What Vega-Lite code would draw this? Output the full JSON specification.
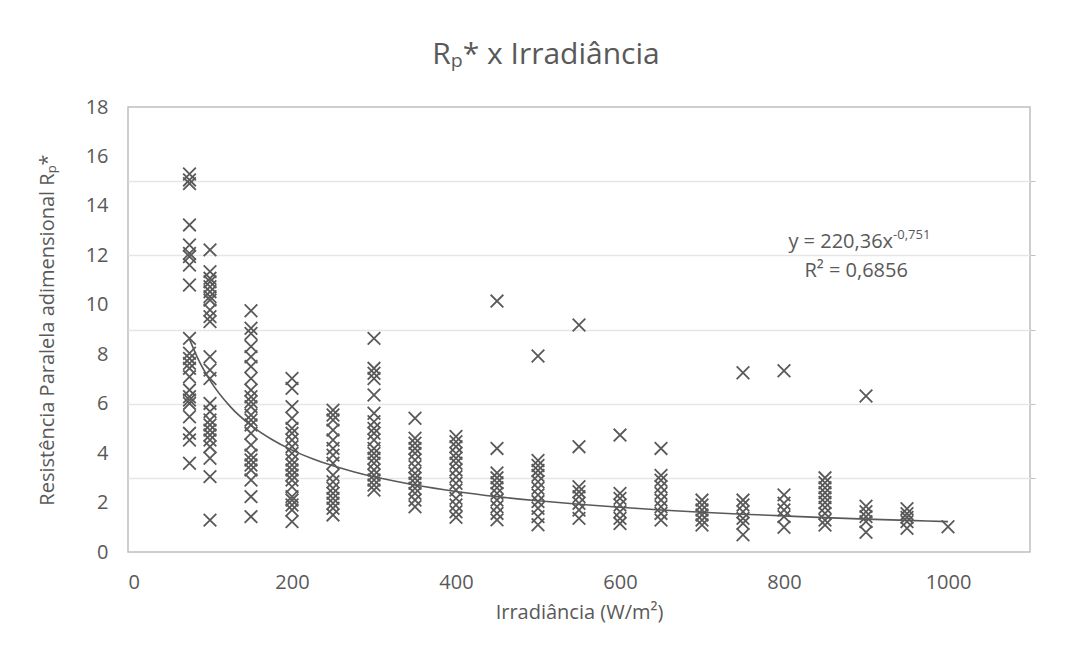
{
  "$schema": "https://vega.github.io/schema/vega-lite/v6.json",
  "width": 902,
  "height": 445,
  "autosize": {"type": "none"},
  "padding": {"left": 128, "top": 107, "right": 46, "bottom": 112},
  "background": "white",
  "config": {
    "view": {"stroke": "#BFBFBF", "strokeWidth": 1.5},
    "font": "Open Sans",
    "axis": {"labelFont": "Open Sans", "titleFont": "Open Sans"}
  },
  "title": {
    "text": "Rₚ* x Irradiância",
    "fontSize": 30,
    "font": "Open Sans",
    "fontWeight": "normal",
    "color": "#595959",
    "anchor": "middle",
    "frame": "group",
    "offset": 27,
    "dx": -33
  },
  "datasets": {
    "pts": [
      {"x":75,"y":15.29},{"x":75,"y":15.05},{"x":75,"y":14.9},{"x":75,"y":13.23},{"x":75,"y":12.42},{"x":75,"y":12.08},{"x":75,"y":11.95},{"x":75,"y":11.61},{"x":75,"y":10.8},{"x":75,"y":8.64},{"x":75,"y":8.04},{"x":75,"y":7.83},{"x":75,"y":7.63},{"x":75,"y":7.43},{"x":75,"y":7.09},{"x":75,"y":6.55},{"x":75,"y":6.28},{"x":75,"y":6.15},{"x":75,"y":6.01},{"x":75,"y":5.47},{"x":75,"y":4.8},{"x":75,"y":4.53},{"x":75,"y":3.59},
      {"x":100,"y":12.22},{"x":100,"y":11.34},{"x":100,"y":11.07},{"x":100,"y":10.93},{"x":100,"y":10.73},{"x":100,"y":10.53},{"x":100,"y":10.33},{"x":100,"y":10.19},{"x":100,"y":9.79},{"x":100,"y":9.52},{"x":100,"y":9.32},{"x":100,"y":7.9},{"x":100,"y":7.36},{"x":100,"y":7.02},{"x":100,"y":6.01},{"x":100,"y":5.68},{"x":100,"y":5.34},{"x":100,"y":5.14},{"x":100,"y":4.93},{"x":100,"y":4.73},{"x":100,"y":4.53},{"x":100,"y":4.26},{"x":100,"y":3.79},{"x":100,"y":3.05},{"x":100,"y":1.29},
      {"x":150,"y":9.76},{"x":150,"y":9.05},{"x":150,"y":8.84},{"x":150,"y":8.31},{"x":150,"y":7.9},{"x":150,"y":7.5},{"x":150,"y":7.02},{"x":150,"y":6.55},{"x":150,"y":6.28},{"x":150,"y":6.08},{"x":150,"y":5.88},{"x":150,"y":5.54},{"x":150,"y":5.34},{"x":150,"y":5.14},{"x":150,"y":4.8},{"x":150,"y":4.33},{"x":150,"y":3.92},{"x":150,"y":3.72},{"x":150,"y":3.52},{"x":150,"y":3.32},{"x":150,"y":2.91},{"x":150,"y":2.24},{"x":150,"y":1.43},
      {"x":200,"y":7.02},{"x":200,"y":6.62},{"x":200,"y":5.88},{"x":200,"y":5.41},{"x":200,"y":5.0},{"x":200,"y":4.8},{"x":200,"y":4.53},{"x":200,"y":4.26},{"x":200,"y":3.99},{"x":200,"y":3.72},{"x":200,"y":3.52},{"x":200,"y":3.32},{"x":200,"y":3.11},{"x":200,"y":2.91},{"x":200,"y":2.64},{"x":200,"y":2.24},{"x":200,"y":2.1},{"x":200,"y":1.9},{"x":200,"y":1.7},{"x":200,"y":1.23},
      {"x":250,"y":5.74},{"x":250,"y":5.54},{"x":250,"y":5.34},{"x":250,"y":4.93},{"x":250,"y":4.53},{"x":250,"y":4.19},{"x":250,"y":3.92},{"x":250,"y":3.59},{"x":250,"y":3.11},{"x":250,"y":2.84},{"x":250,"y":2.58},{"x":250,"y":2.37},{"x":250,"y":2.17},{"x":250,"y":1.97},{"x":250,"y":1.77},{"x":250,"y":1.5},
      {"x":300,"y":8.64},{"x":300,"y":7.43},{"x":300,"y":7.23},{"x":300,"y":7.02},{"x":300,"y":6.35},{"x":300,"y":5.61},{"x":300,"y":5.27},{"x":300,"y":5.0},{"x":300,"y":4.8},{"x":300,"y":4.53},{"x":300,"y":4.19},{"x":300,"y":3.99},{"x":300,"y":3.79},{"x":300,"y":3.59},{"x":300,"y":3.32},{"x":300,"y":3.11},{"x":300,"y":2.91},{"x":300,"y":2.71},{"x":300,"y":2.51},
      {"x":350,"y":5.41},{"x":350,"y":4.6},{"x":350,"y":4.4},{"x":350,"y":4.19},{"x":350,"y":3.99},{"x":350,"y":3.72},{"x":350,"y":3.45},{"x":350,"y":3.18},{"x":350,"y":2.98},{"x":350,"y":2.78},{"x":350,"y":2.58},{"x":350,"y":2.37},{"x":350,"y":2.1},{"x":350,"y":1.83},
      {"x":400,"y":4.67},{"x":400,"y":4.46},{"x":400,"y":4.26},{"x":400,"y":3.99},{"x":400,"y":3.79},{"x":400,"y":3.59},{"x":400,"y":3.32},{"x":400,"y":3.05},{"x":400,"y":2.78},{"x":400,"y":2.51},{"x":400,"y":2.17},{"x":400,"y":1.9},{"x":400,"y":1.63},{"x":400,"y":1.4},
      {"x":450,"y":10.15},{"x":450,"y":4.19},{"x":450,"y":3.2},{"x":450,"y":3.0},{"x":450,"y":2.8},{"x":450,"y":2.6},{"x":450,"y":2.37},{"x":450,"y":2.1},{"x":450,"y":1.83},{"x":450,"y":1.56},{"x":450,"y":1.3},
      {"x":500,"y":7.93},{"x":500,"y":3.7},{"x":500,"y":3.5},{"x":500,"y":3.3},{"x":500,"y":3.1},{"x":500,"y":2.84},{"x":500,"y":2.58},{"x":500,"y":2.31},{"x":500,"y":2.04},{"x":500,"y":1.77},{"x":500,"y":1.43},{"x":500,"y":1.1},
      {"x":550,"y":9.18},{"x":550,"y":4.26},{"x":550,"y":2.64},{"x":550,"y":2.44},{"x":550,"y":2.24},{"x":550,"y":1.97},{"x":550,"y":1.7},{"x":550,"y":1.36},
      {"x":600,"y":4.73},{"x":600,"y":2.37},{"x":600,"y":2.17},{"x":600,"y":1.9},{"x":600,"y":1.63},{"x":600,"y":1.36},{"x":600,"y":1.15},
      {"x":650,"y":4.19},{"x":650,"y":3.1},{"x":650,"y":2.9},{"x":650,"y":2.64},{"x":650,"y":2.37},{"x":650,"y":2.1},{"x":650,"y":1.83},{"x":650,"y":1.56},{"x":650,"y":1.29},
      {"x":700,"y":2.1},{"x":700,"y":1.9},{"x":700,"y":1.7},{"x":700,"y":1.5},{"x":700,"y":1.29},{"x":700,"y":1.09},
      {"x":750,"y":7.25},{"x":750,"y":2.1},{"x":750,"y":1.9},{"x":750,"y":1.63},{"x":750,"y":1.36},{"x":750,"y":1.16},{"x":750,"y":0.7},
      {"x":800,"y":7.33},{"x":800,"y":2.31},{"x":800,"y":1.97},{"x":800,"y":1.7},{"x":800,"y":1.43},{"x":800,"y":1.0},
      {"x":850,"y":3.0},{"x":850,"y":2.8},{"x":850,"y":2.6},{"x":850,"y":2.4},{"x":850,"y":2.2},{"x":850,"y":2.0},{"x":850,"y":1.8},{"x":850,"y":1.56},{"x":850,"y":1.29},{"x":850,"y":1.09},
      {"x":900,"y":6.31},{"x":900,"y":1.85},{"x":900,"y":1.63},{"x":900,"y":1.43},{"x":900,"y":1.23},{"x":900,"y":0.8},
      {"x":950,"y":1.75},{"x":950,"y":1.55},{"x":950,"y":1.4},{"x":950,"y":1.23},{"x":950,"y":0.96},
      {"x":1000,"y":1.02}
    ],
    "trend": [
      {"x":75,"y":8.61},{"x":85,"y":7.84},{"x":100,"y":6.94},{"x":125,"y":5.87},{"x":150,"y":5.12},{"x":175,"y":4.56},{"x":200,"y":4.12},{"x":225,"y":3.77},{"x":250,"y":3.49},{"x":275,"y":3.25},{"x":300,"y":3.04},{"x":350,"y":2.71},{"x":400,"y":2.45},{"x":450,"y":2.24},{"x":500,"y":2.07},{"x":550,"y":1.93},{"x":600,"y":1.81},{"x":650,"y":1.7},{"x":700,"y":1.61},{"x":750,"y":1.53},{"x":800,"y":1.46},{"x":850,"y":1.39},{"x":900,"y":1.33},{"x":950,"y":1.28},{"x":1000,"y":1.23}
    ],
    "one": [{}]
  },
  "layer": [
    {
      "data": {"name": "pts"},
      "mark": {"type": "point", "shape": "M-1,-1L1,1M-1,1L1,-1", "filled": false, "stroke": "#595959", "strokeWidth": 1.8, "size": 160, "opacity": 1},
      "encoding": {
        "x": {"field": "x", "type": "quantitative", "scale": {"domain": [0, 1100], "nice": false, "zero": false},
          "axis": {"values": [0, 200, 400, 600, 800, 1000], "format": "d", "title": "Irradiância (W/m²)", "grid": false, "domain": false, "ticks": false,
            "labelFontSize": 20, "labelColor": "#595959", "labelPadding": 20, "titleFontSize": 20, "titleFontWeight": "normal", "titleColor": "#595959", "titlePadding": 10}},
        "y": {"field": "y", "type": "quantitative", "scale": {"domain": [0, 18], "nice": false},
          "axis": {"orient": "left", "values": [0, 2, 4, 6, 8, 10, 12, 14, 16, 18], "title": "Resistência Paralela adimensional Rₚ*", "grid": false, "domain": false, "ticks": false,
            "labelFontSize": 20, "labelColor": "#595959", "labelPadding": 20, "titleFontSize": 20, "titleFontWeight": "normal", "titleColor": "#595959", "titlePadding": 28}}
      }
    },
    {
      "data": {"name": "trend"},
      "mark": {"type": "line", "color": "#595959", "strokeWidth": 1.6, "interpolate": "monotone"},
      "encoding": {
        "x": {"field": "x", "type": "quantitative"},
        "y": {"field": "y", "type": "quantitative",
          "axis": {"orient": "right", "values": [3, 6, 9, 12, 15], "labels": false, "title": null, "domain": false, "ticks": true, "tickSize": 5, "tickColor": "#BFBFBF", "grid": true, "gridColor": "#E6E6E6", "gridWidth": 1.3}}
      }
    },
    {
      "data": {"name": "one"},
      "mark": {"type": "text", "text": "y = 220,36x", "align": "right", "baseline": "alphabetic", "fontSize": 20, "color": "#595959"},
      "encoding": {
        "x": {"datum": 933, "type": "quantitative"},
        "y": {"datum": 12.3, "type": "quantitative", "axis": null}
      }
    },
    {
      "data": {"name": "one"},
      "mark": {"type": "text", "text": "-0,751", "align": "left", "baseline": "alphabetic", "fontSize": 13, "dy": -9, "color": "#595959"},
      "encoding": {
        "x": {"datum": 933, "type": "quantitative"},
        "y": {"datum": 12.3, "type": "quantitative", "axis": null}
      }
    },
    {
      "data": {"name": "one"},
      "mark": {"type": "text", "text": "R² = 0,6856", "align": "center", "baseline": "alphabetic", "fontSize": 20, "color": "#595959"},
      "encoding": {
        "x": {"datum": 888, "type": "quantitative"},
        "y": {"datum": 11.12, "type": "quantitative", "axis": null}
      }
    }
  ],
  "resolve": {"scale": {"y": "shared"}, "axis": {"y": "independent"}}
}
